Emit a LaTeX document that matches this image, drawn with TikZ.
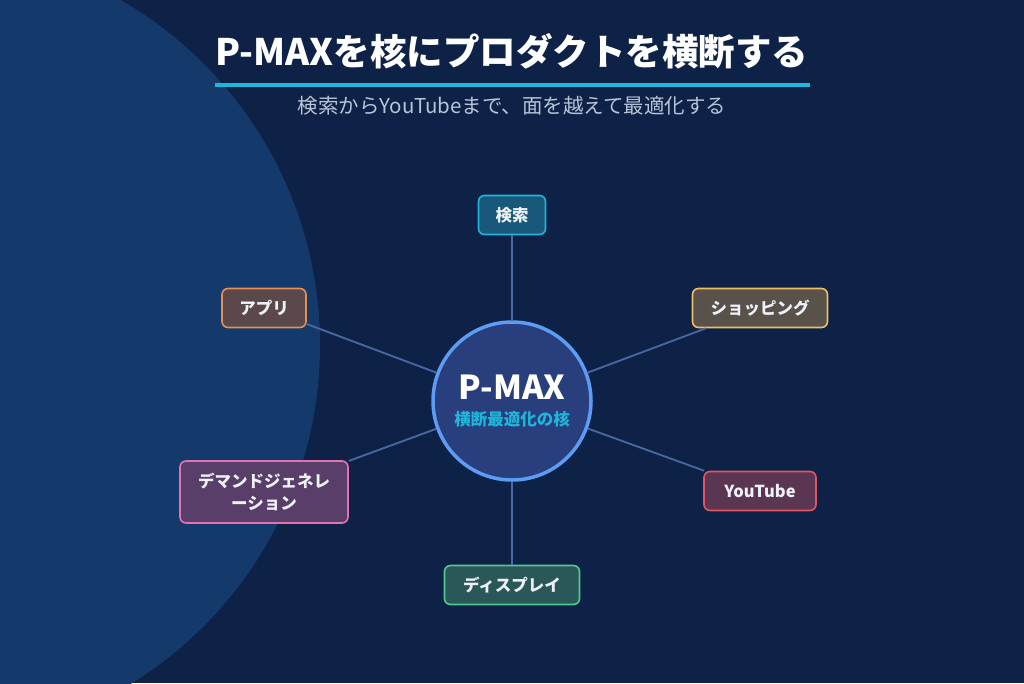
\documentclass[tikz,border=0pt]{standalone}
\usepackage{fontspec}
\setmainfont{Noto Sans CJK JP}
\usetikzlibrary{positioning}
\definecolor{bgnavy}{HTML}{0D2246}
\definecolor{bgglow}{HTML}{143A6C}
\definecolor{accent}{HTML}{1FB6DC}
\definecolor{subtext}{HTML}{B8C4D8}
\definecolor{chtext}{HTML}{EEF1F7}
\definecolor{linkblue}{HTML}{4A68A6}
\definecolor{hubfill}{HTML}{293E7C}
\definecolor{hubdraw}{HTML}{5C9CF4}
\tikzset{
  chbox/.style={draw, rounded corners=6pt, line width=1.6pt, align=center, minimum height=39pt, inner xsep=15pt, inner ysep=4pt, text=chtext, font=\fontsize{16.5}{22}\selectfont\bfseries},
  hubnode/.style={circle, draw=hubdraw, fill=hubfill, line width=3.5pt, minimum size=158pt, align=center, inner sep=0pt, font=\fontsize{16}{26}\selectfont\bfseries},
  chlink/.style={draw=linkblue, line width=1.8pt}
}

\begin{document}
\begin{tikzpicture}[x=1pt,y=-1pt]
\fill[bgnavy] (0,0) rectangle (1024,683);
\useasboundingbox (0,0) rectangle (1024,683);
\begin{scope}
\clip (0,0) rectangle (1024,683);
\fill[bgglow] (-78,345) circle (398);
\end{scope}
% title
\node[text=white, font=\fontsize{36.5}{40}\selectfont\bfseries] (title) at (512,51) {P-MAXを核にプロダクトを横断する};
\draw[accent, line width=3.5pt] (215,85) -- (810,85);
\node[text=subtext, font=\fontsize{20.5}{24}\selectfont] (sub) at (512,106) {検索からYouTubeまで、面を越えて最適化する};
% hub
\node[hubnode] (hub) at (512,401) {{\color{white}\fontsize{33}{34}\selectfont P-MAX}\\{\color{accent}\fontsize{16.5}{20}\selectfont 横断最適化の核}};
% channels
\node[chbox, draw=accent, fill={rgb,255:red,24;green,88;blue,122}, minimum width=67pt] (search) at (512,215) {検索};
\node[chbox, draw={rgb,255:red,240;green,192;blue,96}, fill={rgb,255:red,88;green,82;blue,74}, minimum width=135pt] (shop) at (760,308) {ショッピング};
\node[chbox, draw={rgb,255:red,226;green,86;blue,100}, fill={rgb,255:red,90;green,54;blue,82}, minimum width=112pt] (yt) at (760,491) {YouTube};
\node[chbox, draw={rgb,255:red,84;green,200;blue,144}, fill={rgb,255:red,42;green,88;blue,88}, minimum width=135pt] (disp) at (512,585) {ディスプレイ};
\node[chbox, draw={rgb,255:red,226;green,114;blue,178}, fill={rgb,255:red,88;green,62;blue,104}, minimum height=62pt, minimum width=168pt] (demand) at (264,492) {デマンドジェネレ\\ーション};
\node[chbox, draw={rgb,255:red,232;green,144;blue,82}, fill={rgb,255:red,90;green,72;blue,74}, minimum width=84pt] (app) at (264,308) {アプリ};
% links
\foreach \ch in {search,shop,yt,disp,demand,app}
  \draw[chlink] (hub) -- (\ch);
\end{tikzpicture}
\end{document}
